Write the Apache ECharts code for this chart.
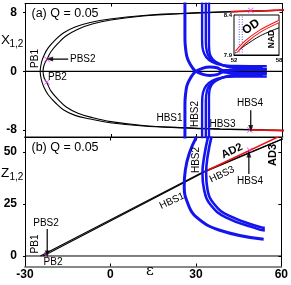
<!DOCTYPE html>
<html><head><meta charset="utf-8">
<script src="https://cdn.jsdelivr.net/npm/echarts@6/dist/echarts.min.js"></script>
<style>html,body{margin:0;padding:0;background:#fff}#c{width:291px;height:285px}</style>
</head><body><div id="c"></div>
<script>
// ---------- data ----------
const xTicks = [-30, 0, 30, 60];
const xTicksA = [-8, 0, 8];
const zTicksB = [0, 25, 50];
const insetXTicks = [52, 58];
const insetYTicks = [7.9, 8.4];

// panel (a): PB branches (lower right -> tip -> upper right)
const epsPBouter = [60.5, 52, 38.1, 24.2, 11.3, -0.3, -7.2, -12.5, -16.6, -19.4, -21.9, -23.3, -24.2, -24.7, -24.2, -23.3, -21.9, -19.4, -16.6, -12.5, -7.2, -0.3, 11.3, 24.2, 38.1, 52, 60.5];
const xPBouter   = [-8.08, -8.0, -7.88, -7.7, -7.45, -7.0, -6.5, -6.0, -5.23, -4.28, -3.19, -2.23, -1.28, 0, 1.28, 2.23, 3.19, 4.28, 5.23, 6.05, 6.66, 7.14, 7.62, 7.89, 8.10, 8.25, 8.35];
const epsPBinner = [60.5, 52, 38.1, 24.2, 11.3, 0, -6.5, -11.5, -15.6, -18.4, -20.9, -22.3, -23.3, -23.7, -23.3, -22.3, -20.9, -18.4, -15.6, -11.5, -6.5, 0, 11.3, 24.2, 38.1, 52, 60.5];
const xPBinner   = [-8.05, -7.97, -7.85, -7.66, -7.38, -6.85, -6.3, -5.7, -4.85, -3.85, -2.7, -1.6, -0.9, 0, 0.9, 1.64, 2.7, 3.85, 4.85, 5.75, 6.45, 7.0, 7.55, 7.85, 8.07, 8.22, 8.32];
const epsRedUpA = [42, 48, 54, 60.5];
const xRedUpA   = [8.14, 8.2, 8.27, 8.36];
const epsRedLoA = [48.6, 54, 60.5];
const xRedLoA   = [-7.98, -8.03, -8.08];

// panel (a): homoclinic-type blue branches
const epsHBS1a = [25.9, 25.9, 26.0, 26.6, 27.7, 29.4, 32.2, 34.6, 37.1, 39.2, 43.4, 48.6, 54.5];
const xHBS1aUp = [9.4, 5, 3.6, 1.96, 1.0, 0.1, -0.42, -0.55, -0.45, -0.1, -0.25, -0.3, -0.3];
const xHBS1aLo = [-9.4, -5, -3.6, -1.96, -1.0, -0.1, 0.45, 0.6, 0.5, 0.1, 0.2, 0.25, 0.25];
const epsHBSAa = [31.9, 31.9, 32.2, 33.3, 35.4, 38.8, 43.4, 54.5];
const xHBSAaUp = [9.4, 4.28, 2.91, 1.96, 1.28, 0.85, 0.72, 0.7];
const xHBSAaLo = [-9.4, -4.28, -2.91, -1.96, -1.28, -0.85, -0.72, -0.7];
const epsHBSBa = [33.2, 33.2, 33.6, 34.6, 36.7, 40.2, 45.1, 53.1];
const xHBSBaUp = [9.4, 4.0, 2.64, 1.82, 1.21, 0.73, 0.55, 0.5];
const xHBSBaLo = [-9.4, -4.0, -2.64, -1.82, -1.21, -0.73, -0.55, -0.5];
const epsHBSCa = [34.3, 34.3, 34.6, 35.7, 37.8, 41.3, 46.1, 54.5];
const xHBSCaUp = [9.4, 3.73, 2.37, 1.62, 1.07, 0.59, 0.36, 0.3];
const xHBSCaLo = [-9.4, -3.73, -2.37, -1.62, -1.07, -0.59, -0.36, -0.3];

// panel (b)
const epsZ1 = [-24.6, 33, 60.5];
const zZ1   = [0, 40.7, 56.4];
const epsZ2 = [-23.6, 33, 60.5];
const zZ2   = [0, 40.4, 56.2];
const epsAD2 = [33, 60.5];
const zAD2   = [40.5, 58.3];
const epsHBS1b = [30.3, 27.7, 26.3, 25.9, 27.1, 30.0, 38.1, 53.8];
const zHBS1b   = [57.5, 49.4, 41.4, 33.3, 25.5, 18.9, 12.5, 8.0];
const epsHBS2b = [34.3, 32.9, 32.3, 32.9, 35.2, 40.5, 52.1, 54.2];
const zHBS2b   = [57.5, 47.7, 39.8, 31.7, 24.5, 18.6, 12.8, 12.3];
const epsHBS3b = [35.5, 34.1, 33.6, 34.1, 36.4, 41.4, 52.8, 54.2];
const zHBS3b   = [57.5, 47.7, 39.8, 31.7, 25.0, 19.5, 13.8, 13.5];

// special points (magenta)
const ptsA = [[-22.3, 1.64], [-22.3, -1.45], [48.9, 8.3], [48.6, -8.0]];
const ptsB = [[-22.35, 0.5], [48.9, 50.8]];

// inset
const epsInsetBlack = [52.1, 53.5, 55.5, 58];
const xInsetBlack   = [7.92, 8.02, 8.14, 8.24];
const epsInsetRed   = [52.3, 53.5, 55.5, 58];
const xInsetRed     = [7.94, 8.06, 8.2, 8.32];
const insetDotEps = [52.7, 53.1];

// arrows (data coordinates: tail, head) and head direction (deg)
const arrowA_PBS2 = [[-14.9, 1.68], [-21.4, 1.68]];
const arrowA_HBS4 = [[48.9, -5.3], [48.9, -7.8]];
const arrowB_PBS2 = [[-22.2, 13.0], [-22.2, 0.9]];
const arrowB_HBS4 = [[48.6, 39.4], [48.6, 49.0]];

// ---------- build ----------
const zip = (a, b) => a.map((v, i) => [v, b[i]]);
const BLUE = '#1414ee', RED = '#ee1111', PINK = '#f040f0';
const FONT = 'Liberation Sans';
const xSym = 'path://M0,1L1,0L5,4L9,0L10,1L6,5L10,9L9,10L5,6L1,10L0,9L4,5Z';

function line(xi, yi, data, color, width, extra) {
  return Object.assign({type: 'line', xAxisIndex: xi, yAxisIndex: yi, data: data, showSymbol: false,
    symbol: 'none', silent: true, animation: false,
    lineStyle: {color: color, width: width}}, extra || {});
}
function arrow(xi, yi, pair, rot) {
  return [
    line(xi, yi, pair, '#000', 1.2, {z: 6}),
    {type: 'scatter', xAxisIndex: xi, yAxisIndex: yi, data: [pair[1]], symbol: 'triangle',
      symbolSize: [5, 7], symbolRotate: rot, symbolOffset: [0, 0], itemStyle: {color: '#000'},
      silent: true, animation: false, z: 6}
  ];
}

const series = [];
series.push(line(0, 0, [[-30, 0], [60, 0]], '#000', 1.2));
series.push(line(2, 2, [[-30, 0], [60, 0]], '#000', 1));
series.push(...arrow(0, 0, arrowA_PBS2, 90));
series.push(...arrow(0, 0, arrowA_HBS4, 180));
series.push(...arrow(2, 2, arrowB_PBS2, 180));
series.push(...arrow(2, 2, arrowB_HBS4, 0));
// panel a
series.push(line(0, 0, zip(epsPBouter, xPBouter), '#000', 1.1, {smooth: 0.4}));
series.push(line(0, 0, zip(epsPBinner, xPBinner), '#000', 1.1, {smooth: 0.4}));
series.push(line(0, 0, zip(epsRedUpA, xRedUpA), RED, 1.6, {smooth: 0.3}));
series.push(line(0, 0, zip(epsRedLoA, xRedLoA), RED, 1.6, {smooth: 0.3}));
[[epsHBS1a, xHBS1aUp], [epsHBS1a, xHBS1aLo], [epsHBSAa, xHBSAaUp], [epsHBSAa, xHBSAaLo],
 [epsHBSBa, xHBSBaUp], [epsHBSBa, xHBSBaLo], [epsHBSCa, xHBSCaUp], [epsHBSCa, xHBSCaLo]].forEach((p, i) => {
  series.push(line(0, 0, zip(p[0], p[1]), BLUE, i < 2 ? 3 : 2.4, {smooth: 0.25}));
});
series.push({type: 'scatter', xAxisIndex: 0, yAxisIndex: 0, data: ptsA, symbol: xSym, symbolSize: 6,
  itemStyle: {color: PINK}, silent: true, animation: false, z: 5});
// panel b
series.push(line(2, 2, zip(epsZ1, zZ1), '#000', 1.1));
series.push(line(2, 2, zip(epsZ2, zZ2), '#000', 1.1));
series.push(line(2, 2, zip(epsAD2, zAD2), RED, 1.5));
series.push(line(2, 2, zip(epsHBS1b, zHBS1b), BLUE, 3, {smooth: 0.45}));
series.push(line(2, 2, zip(epsHBS2b, zHBS2b), BLUE, 2.6, {smooth: 0.45}));
series.push(line(2, 2, zip(epsHBS3b, zHBS3b), BLUE, 2.6, {smooth: 0.45}));
series.push({type: 'scatter', xAxisIndex: 2, yAxisIndex: 2, data: ptsB, symbol: xSym, symbolSize: 6,
  itemStyle: {color: PINK}, silent: true, animation: false, z: 5});
// inset
insetDotEps.forEach(e => series.push(line(4, 4, [[e, 7.9], [e, 8.4]], '#5555ff', 1, {lineStyle: {color: '#5555ff', width: 1, type: [1, 1.5]}})));
series.push(line(4, 4, zip(epsInsetBlack, xInsetBlack), '#000', 1, {smooth: 0.3}));
series.push(line(4, 4, zip(epsInsetRed, xInsetRed), RED, 3.2, {smooth: 0.3}));
series.push(line(4, 4, zip(epsInsetRed, xInsetRed), '#fff', 1.1, {smooth: 0.3}));

const tickLab = {fontFamily: FONT, fontWeight: 'bold', fontSize: 12, color: '#000'};
function xAx(grid, pos, showLab, lineColor, lineW) {
  return {type: 'value', gridIndex: grid, position: pos, min: -30, max: 60, interval: 30,
    axisLine: {show: true, onZero: false, lineStyle: {color: lineColor, width: lineW}},
    axisTick: {show: true, inside: true, length: 3, lineStyle: {color: '#000'}},
    axisLabel: Object.assign({show: showLab, margin: 2}, tickLab),
    splitLine: {show: false}};
}
function yAx(grid, pos, min, max, ticks, showLab, inside) {
  return {type: 'value', gridIndex: grid, position: pos, min: min, max: max,
    axisLine: {show: true, onZero: false, lineStyle: {color: '#000', width: 1}},
    axisTick: {show: true, inside: inside, length: inside ? 3 : 2, customValues: ticks, lineStyle: {color: '#000'}},
    axisLabel: Object.assign({show: showLab, margin: 8, customValues: ticks}, tickLab),
    splitLine: {show: false}};
}

const xAxis = [
  xAx(0, 'bottom', false, '#888', 2),
  xAx(0, 'top', false, '#000', 1),
  xAx(1, 'bottom', true, '#888', 2),
  xAx(1, 'top', false, '#000', 1.2),
  {type: 'value', gridIndex: 2, min: 52, max: 58,
    axisLine: {show: true, onZero: false, lineStyle: {color: '#000', width: 1}},
    axisTick: {show: false},
    axisLabel: {show: true, customValues: insetXTicks, margin: 2, fontSize: 6, fontWeight: 'bold', fontFamily: FONT, color: '#000'},
    splitLine: {show: false}}
];
const yAxis = [
  yAx(0, 'left', -8.95, 9.25, xTicksA, true, false),
  yAx(0, 'right', -8.95, 9.25, xTicksA, false, true),
  yAx(1, 'left', -5.05, 56.97, zTicksB, true, false),
  yAx(1, 'right', -5.05, 56.97, zTicksB, false, true),
  {type: 'value', gridIndex: 2, min: 7.9, max: 8.4,
    axisLine: {show: true, onZero: false, lineStyle: {color: '#000', width: 1}},
    axisTick: {show: false},
    axisLabel: {show: true, customValues: insetYTicks, margin: 2, fontSize: 6, fontWeight: 'bold', fontFamily: FONT, color: '#000'},
    splitLine: {show: false}}
];

function T(text, x, y, opt) {
  opt = opt || {};
  return {type: 'text', x: x, y: y, rotation: opt.rot || 0, silent: true, z: 100,
    style: {text: text, fill: '#000', fontFamily: opt.family || FONT, fontSize: opt.size || 10,
      fontWeight: opt.bold ? 'bold' : 'normal', align: opt.align || 'center', verticalAlign: opt.va || 'middle'}};
}
const R90 = Math.PI / 2, RS = 0.44;
const graphic = [
  T('(a) Q = 0.05', 31.5, 13.5, {size: 12.5, align: 'left'}),
  T('X', 1, 47, {size: 13.5, align: 'left', va: 'bottom'}),
  T('1,2', 9.5, 49.5, {size: 10, align: 'left', va: 'bottom'}),
  T('PB1', 35.5, 58.5, {rot: R90}),
  T('PBS2', 70, 59, {align: 'left'}),
  T('PB2', 48, 77.5, {align: 'left'}),
  T('HBS1', 169.5, 118),
  T('HBS2', 195.5, 114, {rot: R90}),
  T('HBS3', 222.5, 124),
  T('HBS4', 250, 103),
  T('OD', 251, 27, {rot: 0.6, bold: true, size: 12}),
  T('NAD', 272, 39, {rot: R90, bold: true, size: 8.5}),
  T('(b) Q = 0.05', 31.5, 148, {size: 12.5, align: 'left'}),
  T('Z', 1, 180, {size: 13.5, align: 'left', va: 'bottom'}),
  T('1,2', 9.5, 182.5, {size: 10, align: 'left', va: 'bottom'}),
  T('PBS2', 46, 223.5),
  T('PB1', 35.5, 244, {rot: R90}),
  T('PB2', 53, 262),
  T('HBS1', 172, 201, {rot: RS}),
  T('HBS2', 196, 160, {rot: R90}),
  T('HBS3', 222, 174.5, {rot: RS}),
  T('AD2', 232, 151, {rot: RS, bold: true, size: 11}),
  T('HBS4', 250, 181),
  T('AD3', 273, 155, {rot: R90, bold: true, size: 11}),
  T('ε', 150, 271.5, {size: 15, family: 'DejaVu Serif'})
];

const chart = echarts.init(document.getElementById('c'), null, {renderer: 'canvas'});
chart.setOption({
  animation: false,
  backgroundColor: '#fff',
  grid: [
    {left: 25, right: 8.5, top: 3.5, height: 133.5},
    {left: 25, right: 8.5, top: 137.5, height: 129},
    {left: 234, top: 15, width: 45, height: 40, show: true, backgroundColor: '#fff', borderColor: '#000', borderWidth: 1, z: 3}
  ],
  xAxis: xAxis,
  yAxis: yAxis,
  series: series,
  graphic: graphic
});
</script></body></html>
